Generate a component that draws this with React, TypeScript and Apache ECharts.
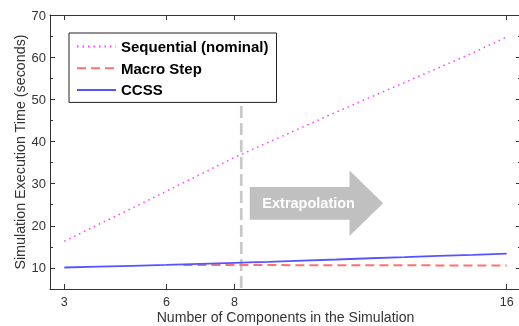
import React, { useEffect, useRef } from 'react';
import * as echarts from 'echarts';

const components = [3, 4, 5, 6, 7, 8, 9, 10, 11, 12, 13, 14, 15, 16];
const sequential = [16.3, 20.3, 24.2, 28.2, 32.2, 36.2, 39.8, 43.4, 47.0, 50.5, 54.0, 57.5, 61.0, 64.8];
const ccss = [10.1, 10.3, 10.5, 10.7, 10.95, 11.2, 11.45, 11.75, 12.0, 12.3, 12.55, 12.85, 13.1, 13.4];
const macroComponents = [6.5, 8, 10, 12, 14, 16];
const macroStep = [10.7, 10.7, 10.65, 10.65, 10.6, 10.6];

const xTickValues = [3, 6, 8, 16];
const yMajorTicks = [10, 20, 30, 40, 50, 60, 70];
const yMinorTicks = [15, 25, 35, 45, 55, 65];

const dividerX = 8.2;
const dividerY = [48.4, 5];

// arrow annotation in data coordinates
const arrowX = { tail: 8.45, neck: 11.38, tip: 12.37, label: 10.18 };
const arrowY = { headTop: 33.1, bodyTop: 29.2, mid: 25.35, bodyBot: 21.4, headBot: 17.6 };

const FONT = '"Liberation Sans", Arial, sans-serif';
const AX = '#333333';

export default function App() {
  const ref = useRef<HTMLDivElement>(null);
  useEffect(() => {
    if (!ref.current) return;
    const chart = echarts.init(ref.current, undefined, { renderer: 'svg' });
    const xBase = {
      type: 'value' as const,
      min: 2.58,
      max: 16.42,
      splitLine: { show: false },
      axisLine: { show: true, lineStyle: { color: AX, width: 1 } },
      axisTick: { show: true, inside: true, length: 5, customValues: xTickValues, lineStyle: { color: AX } },
    };
    const yBase = {
      type: 'value' as const,
      min: 5,
      max: 70,
      splitLine: { show: false },
    };
    chart.setOption({
      animation: false,
      textStyle: { fontFamily: FONT },
      grid: { left: 50, top: 15, right: 9, bottom: 37, containLabel: false, outerBoundsMode: 'none' },
      legend: {
        data: ['Sequential (nominal)', 'Macro Step', 'CCSS'],
        orient: 'vertical',
        left: 69,
        top: 33,
        padding: [6, 8, 5, 7],
        itemWidth: 39,
        itemHeight: 14,
        itemGap: 6.7,
        backgroundColor: '#ffffff',
        borderColor: '#222222',
        borderWidth: 1,
        itemStyle: { color: 'transparent', borderWidth: 0, opacity: 0 },
        textStyle: { fontFamily: FONT, fontWeight: 'bold', fontSize: 15, lineHeight: 14, color: '#000' },
      },
      xAxis: [
        {
          ...xBase,
          position: 'bottom',
          axisLabel: { customValues: xTickValues, fontSize: 12.5, lineHeight: 11, color: AX, margin: 7.5, fontFamily: FONT },
          name: 'Number of Components in the Simulation',
          nameLocation: 'middle',
          nameGap: 21.5,
          nameMoveOverlap: false,
          nameTextStyle: { fontSize: 14.1, lineHeight: 12, color: AX, fontFamily: FONT },
        },
        {
          ...xBase,
          position: 'top',
          axisLabel: { show: false },
        },
      ],
      yAxis: [
        {
          ...yBase,
          position: 'left',
          axisLine: { show: true, lineStyle: { color: AX } },
          axisTick: { show: true, inside: true, length: 5, customValues: yMajorTicks, lineStyle: { color: AX } },
          axisLabel: { customValues: yMajorTicks, fontSize: 13, color: AX, margin: 4, fontFamily: FONT },
          name: 'Simulation Execution Time (seconds)',
          nameLocation: 'middle',
          nameGap: 23,
          nameMoveOverlap: false,
          nameTextStyle: { fontSize: 14.3, color: AX, fontFamily: FONT },
        },
        {
          ...yBase,
          position: 'right',
          axisLine: { show: true, lineStyle: { color: AX } },
          axisTick: { show: true, inside: true, length: 5, customValues: yMajorTicks, lineStyle: { color: AX } },
          axisLabel: { show: false },
        },
        {
          ...yBase,
          position: 'left',
          axisLine: { show: false },
          axisTick: { show: true, inside: true, length: 3, customValues: yMinorTicks, lineStyle: { color: AX } },
          axisLabel: { show: false },
        },
        {
          ...yBase,
          position: 'right',
          axisLine: { show: false },
          axisTick: { show: true, inside: true, length: 3, customValues: yMinorTicks, lineStyle: { color: AX } },
          axisLabel: { show: false },
        },
      ],
      series: [
        {
          name: 'divider',
          type: 'line',
          data: dividerY.map((v) => [dividerX, v]),
          symbol: 'none',
          silent: true,
          lineStyle: { color: '#c8c8c8', width: 2.7, type: [12, 5] },
          z: 1,
        },
        {
          name: 'Sequential (nominal)',
          type: 'line',
          data: components.map((c, i) => [c, sequential[i]]),
          symbol: 'none',
          itemStyle: { color: '#ff3cff' },
          lineStyle: { color: '#ff3cff', width: 1.5, type: [1.5, 4] },
          z: 2,
        },
        {
          name: 'Macro Step',
          type: 'line',
          data: macroComponents.map((c, i) => [c, macroStep[i]]),
          symbol: 'none',
          itemStyle: { color: '#ff7070' },
          lineStyle: { color: '#ff7070', width: 2, type: [9, 5] },
          z: 3,
        },
        {
          name: 'CCSS',
          type: 'line',
          data: components.map((c, i) => [c, ccss[i]]),
          symbol: 'none',
          itemStyle: { color: '#3a3aff' },
          lineStyle: { color: '#5555ff', width: 1.8 },
          z: 4,
        },
      ],
    });

    const p = (x: number, y: number) => chart.convertToPixel({ xAxisIndex: 0, yAxisIndex: 0 }, [x, y]) as number[];
    const pts = [
      p(arrowX.tail, arrowY.bodyTop),
      p(arrowX.neck, arrowY.bodyTop),
      p(arrowX.neck, arrowY.headTop),
      p(arrowX.tip, arrowY.mid),
      p(arrowX.neck, arrowY.headBot),
      p(arrowX.neck, arrowY.bodyBot),
      p(arrowX.tail, arrowY.bodyBot),
    ];
    const lab = p(arrowX.label, arrowY.mid);
    chart.setOption({
      graphic: [
        {
          type: 'polygon',
          shape: { points: pts },
          style: { fill: '#c0c0c0' },
          z: 5,
        },
        {
          type: 'text',
          x: lab[0],
          y: lab[1],
          style: {
            text: 'Extrapolation',
            fill: '#ffffff',
            font: `bold 14.5px ${FONT}`,
            align: 'center',
            verticalAlign: 'middle',
          },
          z: 6,
        },
      ],
    });
    return () => chart.dispose();
  }, []);
  return <div ref={ref} style={{ position: 'fixed', left: 0, top: 0, width: 530, height: 326 }} />;
}
